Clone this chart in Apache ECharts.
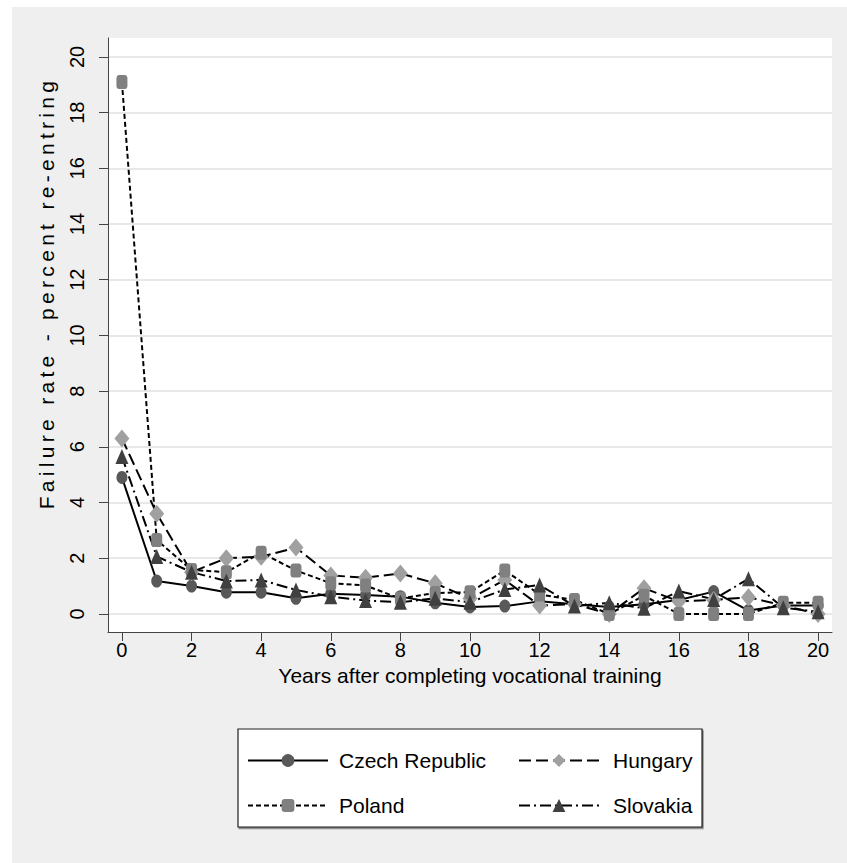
<!DOCTYPE html>
<html>
<head>
<meta charset="utf-8">
<script src="https://cdn.jsdelivr.net/npm/echarts@6/dist/echarts.min.js"></script>
<style>
html,body{margin:0;padding:0;background:#fff;}
#chart{width:847px;height:863px;}
</style>
</head>
<body>
<div id="chart"></div>
<script>
// ---- data ----
const YEARS = [0,1,2,3,4,5,6,7,8,9,10,11,12,13,14,15,16,17,18,19,20];
const CZECH    = [4.9,1.18,1.0,0.78,0.78,0.56,0.72,0.68,0.62,0.4,0.25,0.28,0.45,0.35,0.25,0.35,0.5,0.8,0.12,0.3,0.3];
const HUNGARY  = [6.3,3.6,1.5,2.0,2.05,2.38,1.38,1.3,1.45,1.1,0.55,1.22,0.3,0.35,0.0,0.92,0.45,0.5,0.6,0.3,0.0];
const POLAND   = [19.1,2.65,1.58,1.5,2.2,1.56,1.1,1.02,0.55,0.75,0.78,1.56,0.7,0.5,0.0,0.65,0.0,0.0,0.0,0.4,0.4];
const SLOVAKIA = [5.65,2.06,1.5,1.18,1.22,0.86,0.62,0.48,0.42,0.56,0.42,0.88,1.04,0.28,0.4,0.2,0.82,0.52,1.26,0.22,0.08];
const SERIES_NAMES = ['Czech Republic','Hungary','Poland','Slovakia'];
const X_TICKS = [0,2,4,6,8,10,12,14,16,18,20];
const Y_TICKS = [0,2,4,6,8,10,12,14,16,18,20];
const X_TITLE = 'Years after completing vocational training';
const Y_TITLE = 'Failure rate - percent re-entring';

const FONT = 'Liberation Sans, Arial, sans-serif';
const pts = arr => YEARS.map((x, i) => [x, arr[i]]);

const chart = echarts.init(document.getElementById('chart'), null, {renderer: 'svg'});

function mkSeries(name, arr, dash, symbol, size, fill) {
  return {
    type: 'line', name: name, data: pts(arr),
    symbol: symbol, symbolSize: size, showSymbol: true,
    lineStyle: {color: '#000', width: 2, type: dash},
    itemStyle: {color: fill, borderWidth: 0},
    emphasis: {disabled: true},
    animation: false
  };
}

const option = {
  backgroundColor: '#ffffff',
  animation: false,
  graphic: [
    {type: 'rect', z: -10, silent: true, shape: {x: 12, y: 7, width: 835, height: 856}, style: {fill: '#efefef'}},
    {type: 'rect', z: 3, silent: true, shape: {x: 238, y: 729, width: 464, height: 98},
     style: {fill: '#fff', stroke: '#222', lineWidth: 1.2, shadowColor: 'rgba(0,0,0,0.5)', shadowOffsetX: 1, shadowOffsetY: 1.5, shadowBlur: 0}}
  ],
  grid: {left: 108, top: 38, width: 724, height: 594, show: true, backgroundColor: '#fff', borderWidth: 0},
  xAxis: {
    type: 'value', min: -0.4, max: 20.4,
    name: X_TITLE, nameLocation: 'middle', nameGap: 33,
    nameTextStyle: {fontFamily: FONT, fontSize: 21, color: '#000'},
    axisLine: {show: true, onZero: false, lineStyle: {color: '#444', width: 1}},
    axisTick: {show: true, length: 9, customValues: X_TICKS, lineStyle: {color: '#444'}},
    axisLabel: {customValues: X_TICKS, fontFamily: FONT, fontSize: 20, color: '#000', margin: 8},
    splitLine: {show: false}
  },
  yAxis: {
    type: 'value', min: -0.65, max: 20.68,
    name: Y_TITLE, nameLocation: 'middle', nameGap: 51,
    nameTextStyle: {fontFamily: FONT, fontSize: 21, color: '#000', padding: [0, 0, 0, 84]},
    axisLine: {show: true, onZero: false, lineStyle: {color: '#444', width: 1}},
    axisTick: {show: true, length: 9, customValues: Y_TICKS, lineStyle: {color: '#444'}},
    axisLabel: {customValues: Y_TICKS, rotate: 90, fontFamily: FONT, fontSize: 20, color: '#000', margin: 21},
    splitLine: {show: true, lineStyle: {color: '#e8e8e8', width: 2}}
  },
  legend: [
    {data: ['Czech Republic', 'Poland'], orient: 'vertical', left: 247, top: 750, padding: 0,
     itemWidth: 80, itemHeight: 16, itemGap: 24, selectedMode: false, z: 5,
     textStyle: {fontFamily: FONT, fontSize: 21, color: '#000', padding: [0, 0, 0, 6]}},
    {data: ['Hungary', 'Slovakia'], orient: 'vertical', left: 518, top: 750, padding: 0,
     itemWidth: 80, itemHeight: 16, itemGap: 24, selectedMode: false, z: 5,
     textStyle: {fontFamily: FONT, fontSize: 21, color: '#000', padding: [0, 0, 0, 9]}}
  ],
  series: [
    mkSeries(SERIES_NAMES[0], CZECH, 'solid', 'circle', [11, 13], '#595959'),
    mkSeries(SERIES_NAMES[1], HUNGARY, [12, 5], 'diamond', [15, 18], '#a0a0a0'),
    mkSeries(SERIES_NAMES[2], POLAND, [5, 3], 'roundRect', [11, 14], '#808080'),
    mkSeries(SERIES_NAMES[3], SLOVAKIA, [11, 4, 2, 4], 'triangle', [13, 15], '#404040')
  ]
};
chart.setOption(option);

function spaceTitle() {
  document.querySelectorAll('#chart text').forEach(t => {
    if (t.textContent === Y_TITLE) t.style.letterSpacing = '4.3px';
  });
}
spaceTitle();
chart.on('finished', spaceTitle);
</script>
</body>
</html>
